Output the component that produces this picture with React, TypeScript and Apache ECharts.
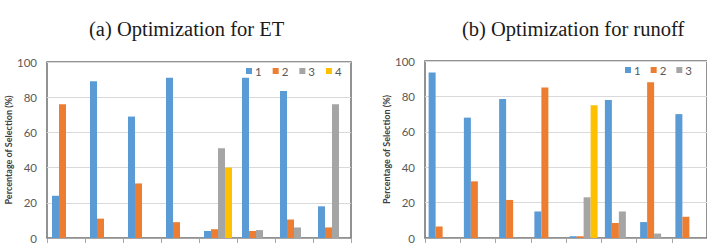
import React, { useEffect, useRef } from "react";
import * as echarts from "echarts";

// Eight cases per panel; x labels are not shown.
const categories = ["C1", "C2", "C3", "C4", "C5", "C6", "C7", "C8"];
const seriesNames = ["1", "2", "3", "4"];
const colors = ["#5B9BD5", "#ED7D31", "#A5A5A5", "#FFC000"];
const yTicks = [0, 20, 40, 60, 80, 100];

// (a) Optimization for ET — percentage of selection per option
const etOption1 = [24, 89, 69, 91, 4, 91, 83.5, 18];
const etOption2 = [76, 11, 31, 9, 5, 4, 10.5, 6];
const etOption3 = [0, 0, 0, 0, 51, 4.5, 6, 76];
const etOption4 = [0, 0, 0, 0, 40, 0, 0, 0];

// (b) Optimization for runoff
const runoffOption1 = [93.5, 68, 78.5, 15, 1, 78, 9, 70];
const runoffOption2 = [6.5, 32, 21.5, 85, 1, 8.5, 88, 12];
const runoffOption3 = [0, 0, 0, 0, 23, 15, 2.5, null];
const runoffOption4 = [0, 0, 0, 0, 75, 0, 0, null];

const titles = ["(a) Optimization for ET", "(b) Optimization for runoff"];
const yName = "Percentage of Selection (%)";

const sans = "Lato, 'Open Sans', sans-serif";
const serif = "'Liberation Serif', 'Times New Roman', serif";

export default function App() {
  const ref = useRef<HTMLDivElement>(null);

  useEffect(() => {
    if (!ref.current) return;
    const chart = echarts.init(ref.current, undefined, { renderer: "svg" });

    const panels = [
      [etOption1, etOption2, etOption3, etOption4],
      [runoffOption1, runoffOption2, runoffOption3, runoffOption4],
    ];

    const grids = [
      { left: 47, top: 62, width: 304, height: 178 },
      { left: 425, top: 61, width: 304, height: 179 },
    ];

    const yAxis = grids.map((_, i) => ({
      type: "value",
      gridIndex: i,
      min: yTicks[0],
      max: yTicks[yTicks.length - 1],
      interval: yTicks[1] - yTicks[0],
      name: yName,
      nameLocation: "middle",
      nameRotate: 90,
      nameGap: 33,
      nameTextStyle: { fontFamily: sans, fontSize: 9, fontWeight: "bold", color: "#404040" },
      axisLine: { show: false },
      axisTick: { show: false },
      axisLabel: { fontFamily: sans, fontSize: 11.5, color: "#595959", margin: 10 },
      splitLine: { lineStyle: { color: "#D9D9D9", width: 1 } },
    }));

    const xAxis = grids.map((_, i) => ({
      type: "category",
      gridIndex: i,
      data: categories,
      boundaryGap: true,
      axisLine: { lineStyle: { color: "#A6A6A6", width: 1 } },
      axisTick: { show: true, length: 5, lineStyle: { color: "#A6A6A6" } },
      axisLabel: { show: false },
    }));

    const series: any[] = [];
    panels.forEach((data, p) => {
      data.forEach((values, s) => {
        series.push({
          type: "bar",
          name: seriesNames[s],
          xAxisIndex: p,
          yAxisIndex: p,
          data: values,
          barWidth: 7,
          barGap: "0%",
          itemStyle: { color: colors[s] },
        });
      });
    });

    const titleStyle = { fontFamily: serif, fontSize: 20.5, fontWeight: "normal", color: "#1a1a1a" };
    const legendText = { fontFamily: sans, fontSize: 11.5, color: "#595959", padding: [0, 0, 0, -2] };

    chart.setOption({
      animation: false,
      color: colors,
      title: [
        { text: titles[0], left: 84, top: 13, textStyle: titleStyle },
        { text: titles[1], left: 457, top: 13, textStyle: titleStyle },
      ],
      legend: [
        {
          data: seriesNames,
          left: 246,
          top: 65,
          icon: "rect",
          itemWidth: 6,
          itemHeight: 6,
          itemGap: 11,
          padding: 0,
          textStyle: legendText,
        },
        {
          data: seriesNames.slice(0, 3),
          left: 625,
          top: 64,
          icon: "rect",
          itemWidth: 6,
          itemHeight: 6,
          itemGap: 10,
          padding: 0,
          textStyle: legendText,
        },
      ],
      grid: grids.map((g) => ({
        ...g,
        show: true,
        borderColor: "#6F6F6F",
        borderWidth: 1.5,
        backgroundColor: "transparent",
      })),
      xAxis,
      yAxis,
      series,
    });

    return () => chart.dispose();
  }, []);

  return (
    <div
      ref={ref}
      style={{ position: "fixed", left: 0, top: 0, width: 707, height: 244, background: "#fff" }}
    />
  );
}
